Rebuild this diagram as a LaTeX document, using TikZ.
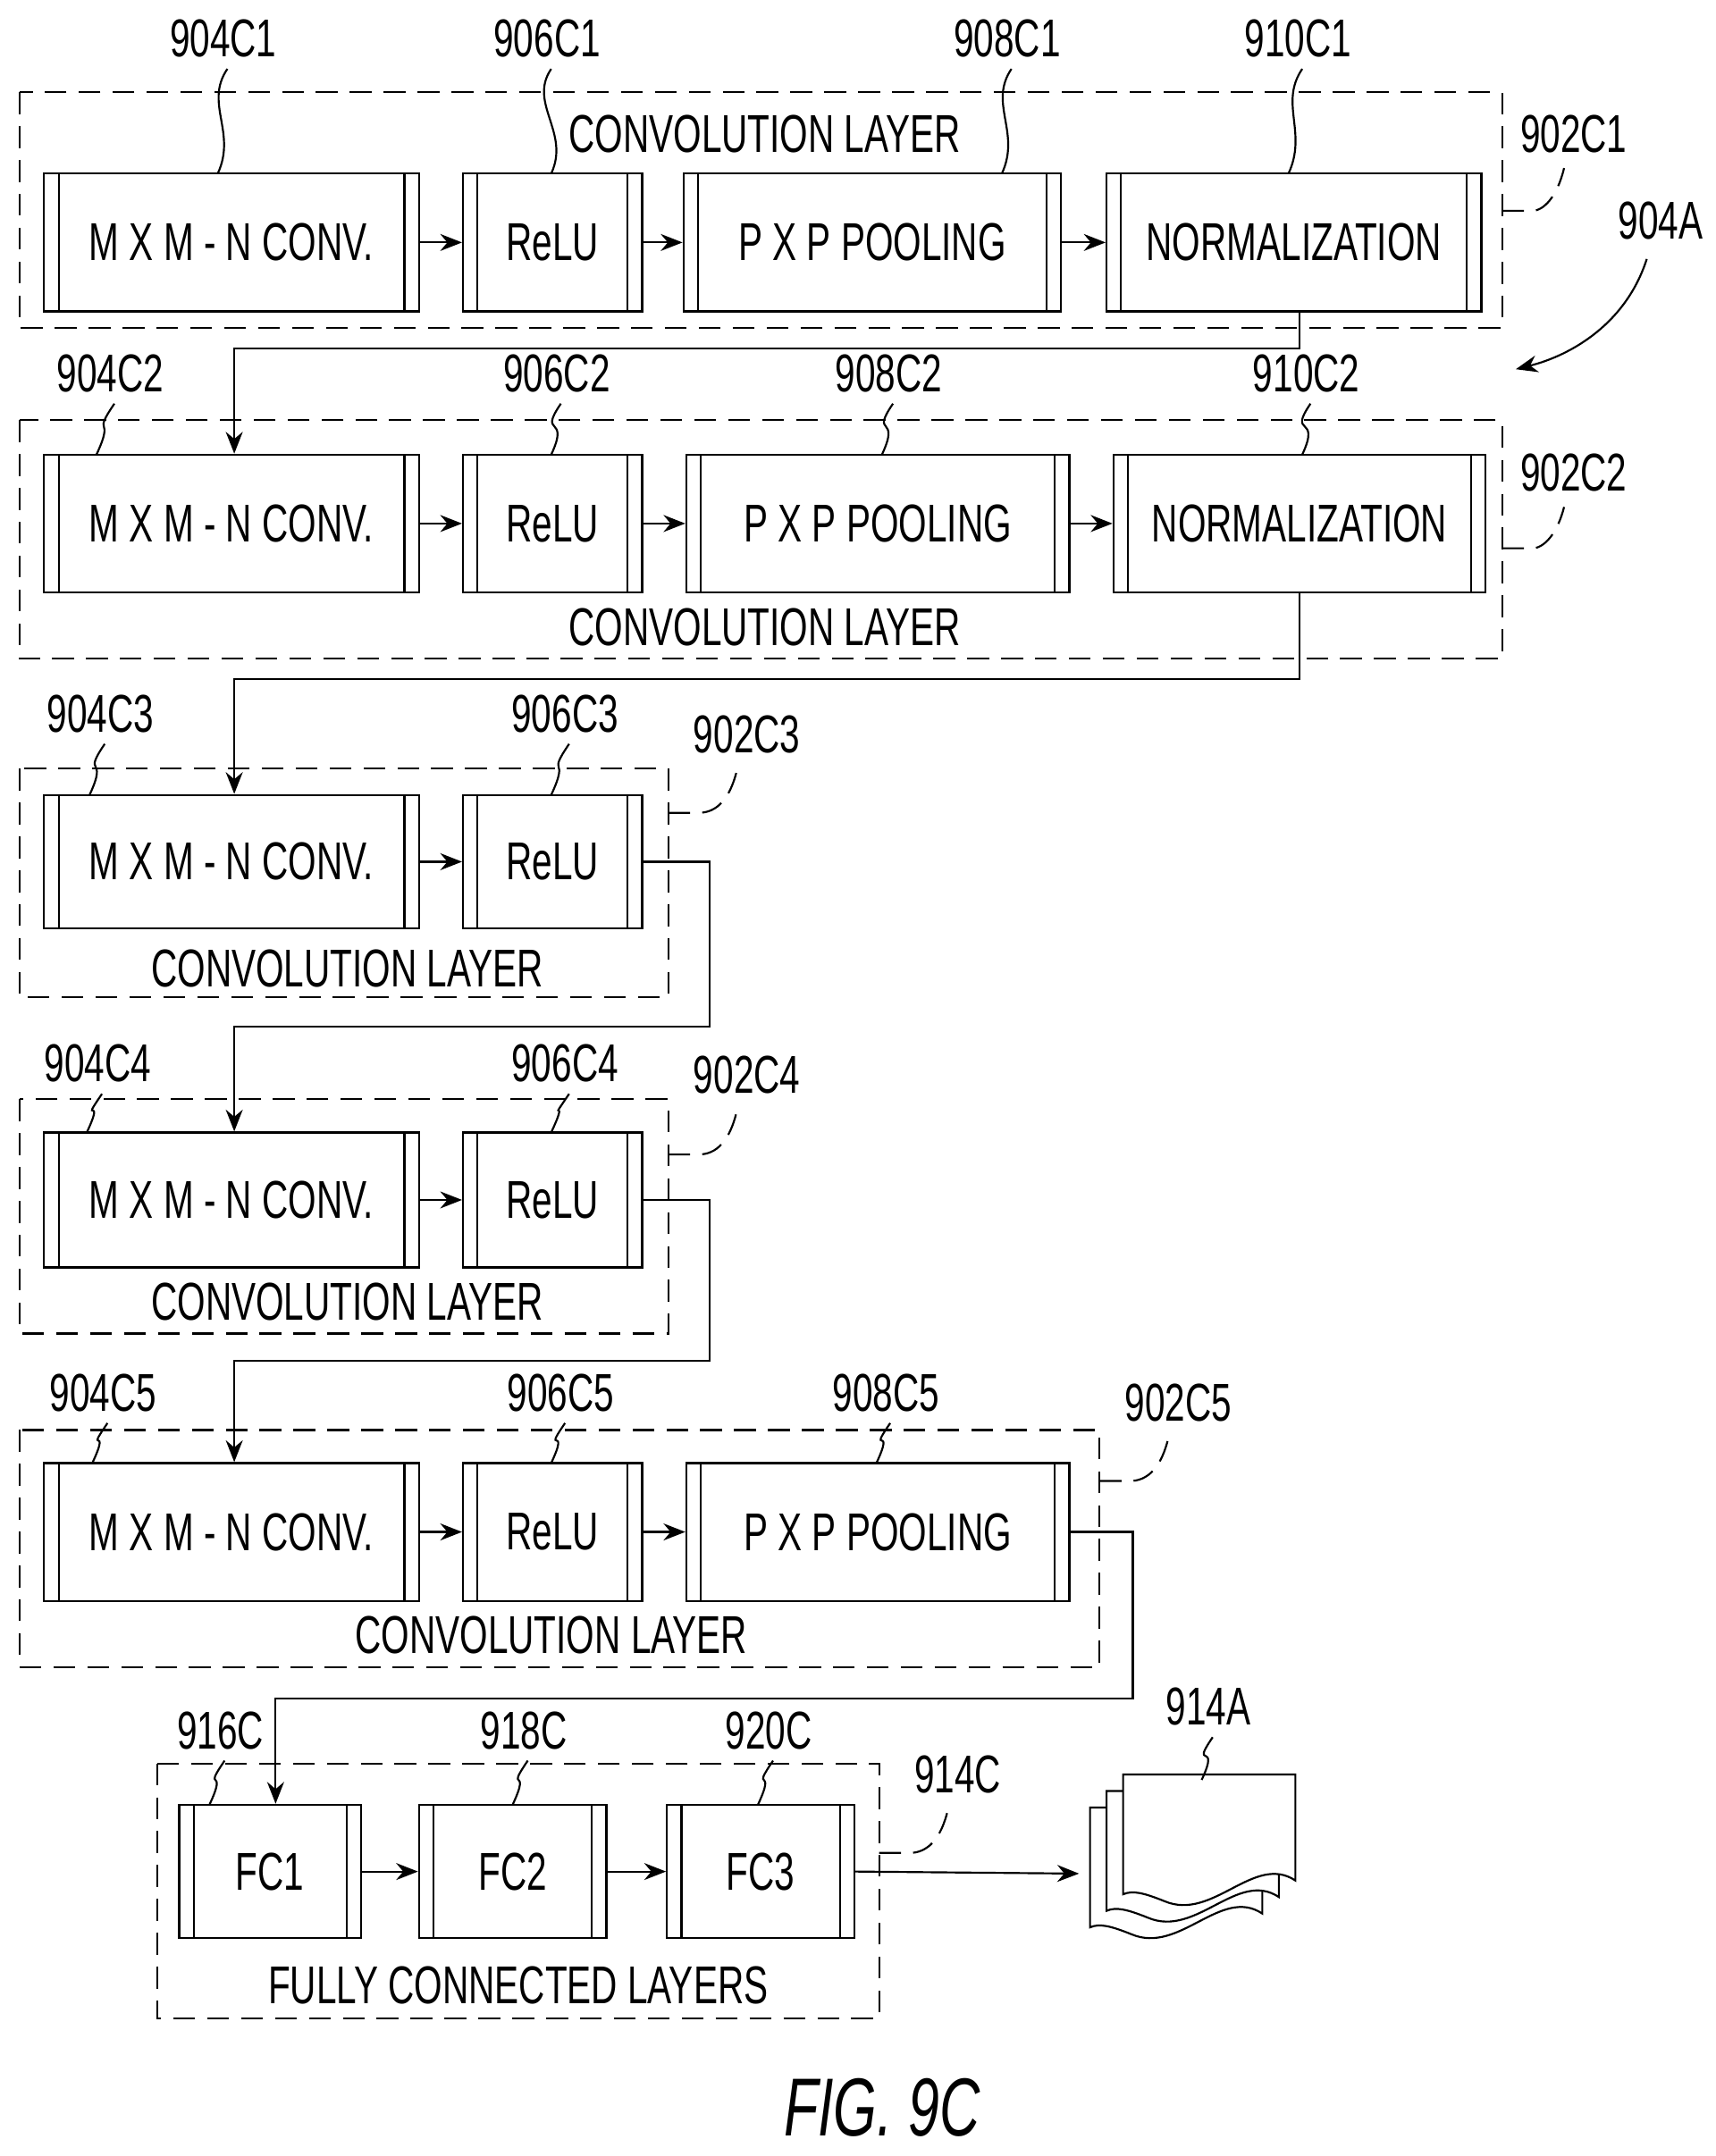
\documentclass[tikz,border=0pt]{standalone}
\usepackage{fontspec}
\setmainfont{Liberation Sans}[FakeStretch=0.68]
\usetikzlibrary{fit, arrows.meta}

\tikzset{
  blk/.style={draw, thick, inner sep=0pt,
    path picture={
      \draw[thick] ([xshift=6pt]path picture bounding box.north west) -- ([xshift=6pt]path picture bounding box.south west);
      \draw[thick] ([xshift=-6pt]path picture bounding box.north east) -- ([xshift=-6pt]path picture bounding box.south east);}},
  grp/.style={draw, thick, dashed, dash pattern=on 9pt off 5pt},
  flow/.style={thick, -{Stealth[length=9pt,width=7pt]}},
  txt/.style={font=\fontsize{22}{26}\selectfont}
}
\newcommand{\blk}[6]{%
  \node[blk, fit={(#2,#3)(#4,#5)}, label={[txt]center:#6}] (#1) {};}
\newcommand{\lead}[5]{%
  \node[txt] at (#1,#2-22) {#5};
  \draw[thick] (#1+3,#2) .. controls (#1-14,#2+25) and (#3+14,#4-30) .. (#3,#4);}
\newcommand{\grplead}[5]{%
  \node[txt] at (#3+12,#4-25) {#5};
  \draw[thick, dashed, dash pattern=on 9pt off 5pt] (#1,#2) -- (#1+22,#2) .. controls (#3-10,#2) and (#3,#2-10) .. (#3+5,#4);}

\begin{document}
\begin{tikzpicture}[x=0.02cm, y=-0.02cm]
    \useasboundingbox (0,0) rectangle (1245,1565);

    % Group frames
    \draw[grp] (14,67) rectangle (1090,238);
    \draw[grp] (14,305) rectangle (1090,478);
    \draw[grp] (14,558) rectangle (485,724);
    \draw[grp] (14,798) rectangle (485,968);
    \draw[grp] (14,1038) rectangle (798,1210);
    \draw[grp] (114,1280) rectangle (638,1465);

    \node[txt] (t1) at (555,97) {CONVOLUTION LAYER};
    \node[txt] (t2) at (555,455) {CONVOLUTION LAYER};
    \node[txt] (t3) at (252,703) {CONVOLUTION LAYER};
    \node[txt] (t4) at (252,945) {CONVOLUTION LAYER};
    \node[txt] (t5) at (400,1187) {CONVOLUTION LAYER};
    \node[txt] (t6) at (376,1441) {FULLY CONNECTED LAYERS};

    % Blocks
    \blk{conv1}{32}{126}{304}{226}{M X M - N CONV.}
    \blk{relu1}{336}{126}{466}{226}{ReLU}
    \blk{pool1}{496}{126}{770}{226}{P X P POOLING}
    \blk{norm1}{803}{126}{1075}{226}{NORMALIZATION}
    \blk{conv2}{32}{330}{304}{430}{M X M - N CONV.}
    \blk{relu2}{336}{330}{466}{430}{ReLU}
    \blk{pool2}{498}{330}{776}{430}{P X P POOLING}
    \blk{norm2}{808}{330}{1078}{430}{NORMALIZATION}
    \blk{conv3}{32}{577}{304}{674}{M X M - N CONV.}
    \blk{relu3}{336}{577}{466}{674}{ReLU}
    \blk{conv4}{32}{822}{304}{920}{M X M - N CONV.}
    \blk{relu4}{336}{822}{466}{920}{ReLU}
    \blk{conv5}{32}{1062}{304}{1162}{M X M - N CONV.}
    \blk{relu5}{336}{1062}{466}{1162}{ReLU}
    \blk{pool5}{498}{1062}{776}{1162}{P X P POOLING}
    \blk{fc1}{130}{1310}{262}{1407}{FC1}
    \blk{fc2}{304}{1310}{440}{1407}{FC2}
    \blk{fc3}{484}{1310}{620}{1407}{FC3}

    % Arrows within rows
    \foreach \a/\b in {conv1/relu1, relu1/pool1, pool1/norm1, conv2/relu2, relu2/pool2, pool2/norm2,
                       conv3/relu3, conv4/relu4, conv5/relu5, relu5/pool5, fc1/fc2, fc2/fc3}
        \draw[flow] (\a) -- (\b);

    % Arrows between rows
    \draw[flow] (norm1.south -| 943,0) |- (170,253) -- (conv2.north -| 170,0);
    \draw[flow] (norm2.south -| 943,0) |- (170,493) -- (conv3.north -| 170,0);
    \draw[flow] (relu3.east) -| (515,745) -| (conv4.north -| 170,0);
    \draw[flow] (relu4.east) -| (515,988) -| (conv5.north -| 170,0);
    \draw[flow] (pool5.east) -| (822,1233) -| (fc1.north -| 200,0);

    % Output pages
    \foreach \d in {24,12,0}
        \draw[thick, fill=white] (815-\d,1288+\d) -- (940-\d,1288+\d) -- (940-\d,1365+\d)
            .. controls (910-\d,1345+\d) and (880-\d,1395+\d) .. (845-\d,1380+\d)
            .. controls (830-\d,1374+\d) and (822-\d,1372+\d) .. (815-\d,1375+\d) -- cycle;
    \coordinate (pages) at (783,1360);
    \draw[flow] (fc3.east) -- (pages);

    % Reference numerals
    \lead{162}{50}{158}{126}{904C1}
    \lead{397}{50}{400}{126}{906C1}
    \lead{731}{50}{727}{126}{908C1}
    \lead{942}{50}{935}{126}{910C1}
    \lead{80}{293}{70}{330}{904C2}
    \lead{404}{293}{400}{330}{906C2}
    \lead{645}{293}{640}{330}{908C2}
    \lead{948}{293}{945}{330}{910C2}
    \lead{73}{540}{65}{577}{904C3}
    \lead{410}{540}{400}{577}{906C3}
    \lead{71}{794}{63}{822}{904C4}
    \lead{410}{794}{400}{822}{906C4}
    \lead{75}{1033}{67}{1062}{904C5}
    \lead{407}{1033}{400}{1062}{906C5}
    \lead{643}{1033}{636}{1062}{908C5}
    \lead{160}{1278}{152}{1310}{916C}
    \lead{380}{1278}{372}{1310}{918C}
    \lead{558}{1278}{550}{1310}{920C}
    \lead{877}{1261}{872}{1292}{914A}

    \grplead{1090}{153}{1130}{122}{902C1}
    \grplead{1090}{398}{1130}{368}{902C2}
    \grplead{485}{590}{530}{558}{902C3}
    \grplead{485}{838}{530}{805}{902C4}
    \grplead{798}{1075}{843}{1043}{902C5}
    \grplead{638}{1345}{683}{1313}{914C}

    \node[txt] (n904A) at (1205,160) {904A};
    \draw[flow] (1195,188) .. controls (1180,235) and (1140,258) .. (1100,268);

    \node[font=\fontsize{34}{38}\selectfont\itshape] (fig) at (640,1530) {FIG. 9C};
\end{tikzpicture}
\end{document}
